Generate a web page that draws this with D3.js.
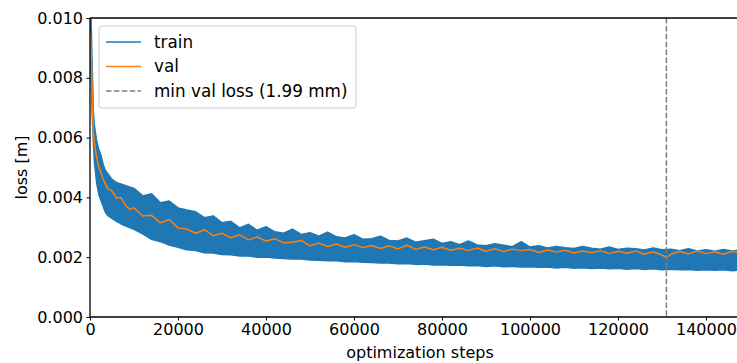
<!DOCTYPE html>
<html>
<head>
<meta charset="utf-8">
<script src="https://cdn.jsdelivr.net/npm/d3@7"></script>
<style>
body{margin:0;background:#fff;}
svg{display:block;overflow:hidden;}
text{font-family:"DejaVu Sans",sans-serif;}
</style>
</head>
<body>
<svg id="chart"></svg>
<script>
// train loss is too dense to read point by point, so it is kept as upper/lower envelope
var trainSteps = [0,250,500,750,1000,1500,2000,2500,3000,3500,4000,5000,6000,7000,8000,
  10000,12000,14000,16000,18000,20000,22000,24000,26000,28000,30000,32000,34000,36000,38000,
  40000,42000,44000,46000,48000,50000,52000,54000,56000,58000,60000,62000,64000,66000,68000,
  70000,72000,74000,76000,78000,80000,82000,84000,86000,88000,90000,92000,94000,96000,98000,
  100000,102000,104000,106000,108000,110000,112000,114000,116000,118000,120000,122000,124000,126000,128000,
  130000,132000,134000,136000,138000,140000,142000,144000,146000,148000];
var trainHi = [0.0105,0.0099,0.0084,0.0069,0.0064,0.0059,0.0056,0.0054,0.0051,0.0049,0.0048,0.0046,0.0045,0.00445,0.0044,
  0.00430,0.00405,0.00412,0.00382,0.00388,0.00365,0.00358,0.00352,0.00332,0.00338,0.00315,0.00320,0.00298,0.00310,0.00290,
  0.00302,0.00285,0.00280,0.00294,0.00276,0.00282,0.00270,0.00284,0.00268,0.00264,0.00275,0.00260,0.00262,0.00270,0.00256,
  0.00254,0.00264,0.00250,0.00255,0.00260,0.00246,0.00252,0.00242,0.00254,0.00241,0.00238,0.00245,0.00240,0.00235,0.00252,
  0.00234,0.00238,0.00231,0.00236,0.00232,0.00229,0.00236,0.00230,0.00227,0.00234,0.00226,0.00230,0.00228,0.00224,0.00231,
  0.00225,0.00227,0.00222,0.00228,0.00221,0.00225,0.00220,0.00226,0.00221,0.00223];
var trainLo = [0.0092,0.0080,0.0068,0.0059,0.0052,0.0045,0.0041,0.0039,0.0037,0.0035,0.0034,0.0033,0.0032,0.00312,0.00305,
  0.00293,0.00278,0.00260,0.00252,0.00241,0.00233,0.00225,0.00222,0.00215,0.00214,0.00209,0.00208,0.00204,0.00204,0.00200,
  0.00201,0.00197,0.00196,0.00194,0.00194,0.00191,0.00190,0.00188,0.00188,0.00185,0.00186,0.00183,0.00182,0.00181,0.00181,
  0.00178,0.00179,0.00176,0.00177,0.00174,0.00175,0.00173,0.00174,0.00171,0.00172,0.00169,0.00171,0.00168,0.00169,0.00167,
  0.00168,0.00166,0.00167,0.00164,0.00166,0.00163,0.00165,0.00162,0.00164,0.00161,0.00163,0.00160,0.00162,0.00159,0.00161,
  0.00158,0.00160,0.00158,0.00159,0.00156,0.00158,0.00156,0.00158,0.00155,0.00157];

var valSteps = [0,250,500,750,1000,1500,2000,2500,3000,3500,4000,5000,6000,7000,8000,9000,
  10000,12000,14000,16000,18000,20000,22000,24000,26000,28000,30000,32000,34000,36000,38000,
  40000,42000,44000,46000,48000,50000,52000,54000,56000,58000,60000,62000,64000,66000,68000,
  70000,72000,74000,76000,78000,80000,82000,84000,86000,88000,90000,92000,94000,96000,98000,
  100000,102000,104000,106000,108000,110000,112000,114000,116000,118000,120000,122000,124000,126000,128000,
  130000,131000,132000,134000,136000,138000,140000,142000,144000,146000,148000];
var valLoss = [0.0095,0.0090,0.0074,0.0063,0.0058,0.00535,0.0050,0.00482,0.0046,0.00445,0.0043,0.00422,0.00398,0.0040,0.00375,0.0036,
  0.00365,0.00338,0.00340,0.00315,0.00326,0.00298,0.00294,0.00280,0.00292,0.00272,0.00280,0.00265,0.00275,0.00258,0.00268,
  0.00254,0.00262,0.00248,0.00250,0.00256,0.00238,0.00247,0.00236,0.00244,0.00233,0.00242,0.00232,0.00239,0.00229,0.00238,
  0.00228,0.00240,0.00226,0.00234,0.00225,0.00233,0.00223,0.00230,0.00222,0.00231,0.00220,0.00228,0.00219,0.00227,0.00222,
  0.00226,0.00216,0.00224,0.00217,0.00223,0.00214,0.00221,0.00215,0.00222,0.00212,0.00220,0.00213,0.00221,0.00210,0.00218,
  0.00207,0.00199,0.00210,0.00219,0.00211,0.00221,0.00212,0.00218,0.00210,0.00220,0.00213];

var yTicks = [0,0.002,0.004,0.006,0.008,0.010];
var xTicks = [0,20000,40000,60000,80000,100000,120000,140000];
var legendLabels = ["train","val","min val loss (1.99 mm)"];

var W = 737, H = 363;
var margin = {top:18,left:90};
var width = 660, height = 299;

var svg = d3.select("#chart").attr("width",W).attr("height",H);
var chart = svg.append("g").attr("transform","translate("+margin.left+","+margin.top+")");

var x = d3.scaleLinear().domain([0,150000]).range([0,width]);
var y = d3.scaleLinear().domain([0,0.010]).range([height,0]);

chart.append("clipPath").attr("id","plotclip")
  .append("rect").attr("width",width).attr("height",height);

var plot = chart.append("g").attr("clip-path","url(#plotclip)");

var band = d3.area()
  .x((d,i)=>x(trainSteps[i]))
  .y0((d,i)=>y(trainLo[i]))
  .y1((d,i)=>y(trainHi[i]));
plot.append("path").datum(trainSteps)
  .attr("d",band)
  .attr("fill","#1f77b4")
  .attr("stroke","#1f77b4")
  .attr("stroke-width",1.5)
  .attr("stroke-linejoin","round");

var valLine = d3.line().x((d,i)=>x(valSteps[i])).y((d,i)=>y(valLoss[i]));
plot.append("path").datum(valSteps)
  .attr("d",valLine)
  .attr("fill","none")
  .attr("stroke","#ff7f0e")
  .attr("stroke-width",1.5)
  .attr("stroke-linejoin","round");

var minIdx = d3.minIndex(valLoss);
plot.append("line")
  .attr("x1",x(valSteps[minIdx])).attr("x2",x(valSteps[minIdx]))
  .attr("y1",0).attr("y2",height)
  .attr("stroke","#808080")
  .attr("stroke-width",1.5)
  .attr("stroke-dasharray","5.5,2.4");

var yaxis = d3.axisLeft(y).tickValues(yTicks).tickFormat(d3.format(".3f")).tickSize(3.5).tickPadding(3.5);
var xaxis = d3.axisBottom(x).tickValues(xTicks).tickFormat(d=>String(d)).tickSize(3.5).tickPadding(3.5);

var gy = chart.append("g").call(yaxis);
var gx = chart.append("g").attr("transform","translate(0,"+height+")").call(xaxis);
[gx,gy].forEach(g=>{
  g.select(".domain").remove();
  g.selectAll(".tick line").attr("stroke","#000").attr("stroke-width",1);
  g.selectAll(".tick text").attr("fill","#000").style("font-size","16px").style("font-family","DejaVu Sans");
});

// spines (right one falls outside the picture)
chart.append("line").attr("x1",0).attr("x2",0).attr("y1",0).attr("y2",height).attr("stroke","#000").attr("stroke-width",1.3);
chart.append("line").attr("x1",0).attr("x2",width).attr("y1",height).attr("y2",height).attr("stroke","#000").attr("stroke-width",1.3);
chart.append("line").attr("x1",0).attr("x2",width).attr("y1",0).attr("y2",0).attr("stroke","#000").attr("stroke-width",1.3);

chart.append("text")
  .attr("x",width/2).attr("y",height+41)
  .attr("text-anchor","middle")
  .style("font-size","16px")
  .text("optimization steps");

chart.append("text")
  .attr("transform","translate("+(27-margin.left)+","+(height/2)+") rotate(-90)")
  .attr("text-anchor","middle")
  .style("font-size","16px")
  .text("loss [m]");

var legend = chart.append("g").attr("transform","translate(9,8)");
legend.append("rect")
  .attr("width",257).attr("height",82).attr("rx",3)
  .attr("fill","#fff").attr("fill-opacity",0.8)
  .attr("stroke","#cccccc").attr("stroke-width",1);
var legColors = ["#1f77b4","#ff7f0e","#808080"];
var legDash = [null,null,"5.5,2.4"];
var items = legend.selectAll("g.item").data(legendLabels).enter().append("g").attr("class","item")
  .attr("transform",(d,i)=>"translate(0,"+(16+i*24.5)+")");
items.append("line")
  .attr("x1",7).attr("x2",42)
  .attr("stroke",(d,i)=>legColors[i])
  .attr("stroke-width",1.5)
  .attr("stroke-dasharray",(d,i)=>legDash[i]);
items.append("text")
  .attr("x",55).attr("dy","0.35em")
  .style("font-size","16.8px")
  .text(d=>d);
</script>
</body>
</html>
